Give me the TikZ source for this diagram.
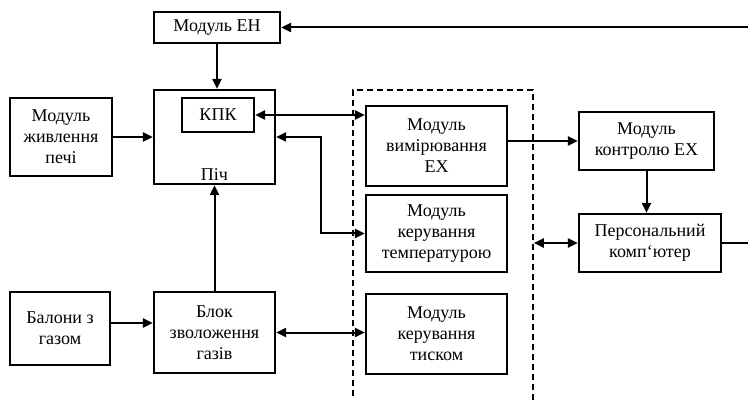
\documentclass[tikz,border=0pt]{standalone}
\usepackage{fontspec}
\setmainfont{Liberation Serif}
\usetikzlibrary{positioning, calc, arrows.meta}

\begin{document}
\begin{tikzpicture}[
    x=0.5pt, y=-0.5pt,
    >={Triangle[length=5pt,width=4.5pt]},
    line width=1pt,
    font=\rmfamily\fontsize{9}{10.5}\selectfont,
    block/.style={
        draw,
        align=center,
        inner sep=1pt,
        line width=1.1pt
    },
    groupframe/.style={
        draw,
        dash pattern=on 3pt off 2pt,
        line width=0.8pt,
        inner sep=0pt
    }
]
\useasboundingbox (0,0) rectangle (748,400);

% Furnace and its inputs
\node[block, minimum width=63pt, minimum height=15.5pt] (EN) at (217,27.5) {Модуль ЕН};
\node[block, minimum width=60.5pt, minimum height=47pt] (Pich) at (214.5,137) {};
\node[block, minimum width=36pt, minimum height=17pt] (KPK) at (218,115) {КПК};
\node[anchor=base, inner sep=0pt] (PichLbl) at ([yshift=2.5pt]Pich.south) {Піч};
\node[block, minimum width=51pt, minimum height=39pt] (Zhyv) at (61,137) {Модуль\\живлення\\печі};

% Gas supply
\node[block, minimum width=50pt, minimum height=36.5pt] (Balony) at (60,328.5) {Балони з\\газом};
\node[block, minimum width=60.5pt, minimum height=40.5pt] (Blok) at (214.5,332.5) {Блок\\зволоження\\газів};

% Control modules
\node[groupframe, minimum width=90pt, minimum height=160pt] (Frame) at (443,250) {};
\node[block, minimum width=70.5pt, minimum height=40pt] (Vymir) at (436.5,146) {Модуль\\вимірювання\\ЕХ};
\node[block, minimum width=70.5pt, minimum height=38.5pt] (Temp) at (436.5,233.5) {Модуль\\керування\\температурою};
\node[block, minimum width=70.5pt, minimum height=40pt] (Tysk) at (436.5,334) {Модуль\\керування\\тиском};

% Computer side
\node[block, minimum width=67.5pt, minimum height=29pt] (Kontr) at (646.5,141) {Модуль\\контролю ЕХ};
\node[block, minimum width=71pt, minimum height=29pt] (PK) at (650,243) {Персональний\\комп`ютер};

% Edges
\draw[->] (EN.south) -- (EN.south |- Pich.north);
\draw[->] (Zhyv.east) -- (Zhyv.east -| Pich.west);
\draw[<->] (KPK.east) -- (KPK.east -| Vymir.west);
\draw[<->] (Temp.west) -- ++(-44,0) |- (Pich.east);
\draw[->] ([yshift=2.75pt]Balony.east) -- ([yshift=2.75pt]Balony.east -| Blok.west);
\draw[->] (Blok.north) -- (Blok.north |- Pich.south);
\draw[<->] (Blok.east) -- (Blok.east -| Tysk.west);
\draw[->] (Vymir.east |- Kontr.west) -- (Kontr.west);
\draw[->] (Kontr.south) -- (Kontr.south |- PK.north);
\draw[<->] (Frame.east |- PK.west) -- (PK.west);
\draw[->] (PK.east) -- ++(40,0) |- (EN.east);

\end{tikzpicture}
\end{document}
